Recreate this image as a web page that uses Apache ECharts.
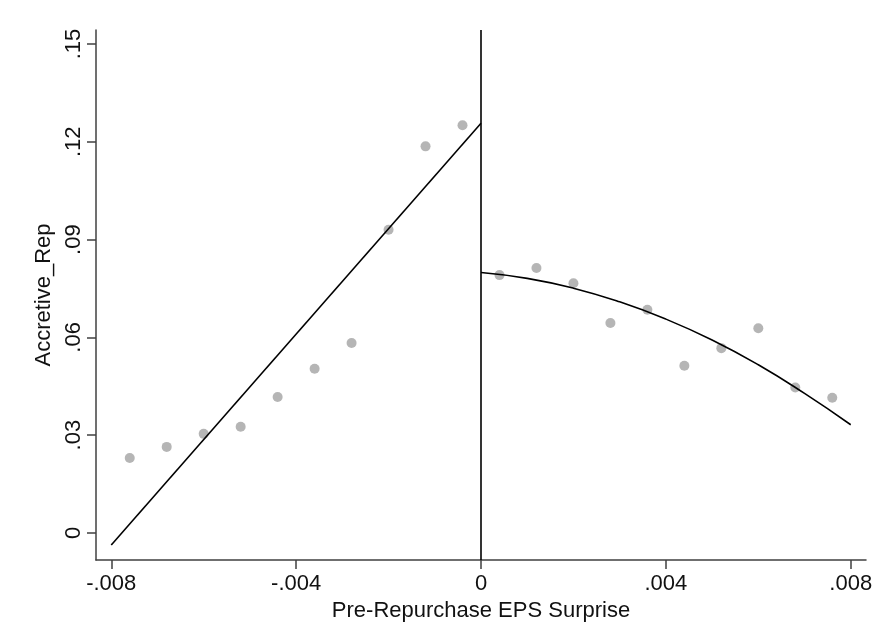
<!DOCTYPE html>
<html>
<head>
<meta charset="utf-8">
<script src="https://cdn.jsdelivr.net/npm/echarts@6/dist/echarts.min.js"></script>
<style>
html,body{margin:0;padding:0;background:#fff;}
#chart{width:877px;height:642px;}
</style>
</head>
<body>
<div id="chart"></div>
<script>
// ---- data ----
const leftX = [-0.0076, -0.0068, -0.0060, -0.0052, -0.0044, -0.0036, -0.0028, -0.0020, -0.0012, -0.0004];
const leftY = [0.0230, 0.0264, 0.0304, 0.0326, 0.0417, 0.0504, 0.0583, 0.0930, 0.1186, 0.1251];
const rightX = [0.0004, 0.0012, 0.0020, 0.0028, 0.0036, 0.0044, 0.0052, 0.0060, 0.0068, 0.0076];
const rightY = [0.0791, 0.0813, 0.0766, 0.0644, 0.0685, 0.0513, 0.0567, 0.0628, 0.0446, 0.0415];
// fitted line (left) read at its endpoints
const leftFitX = [-0.0080, 0.0000];
const leftFitY = [-0.0037, 0.1257];
// fitted curve (right) read at several points
const rightFitX = [0.000, 0.001, 0.002, 0.003, 0.004, 0.005, 0.006, 0.007, 0.008];
const rightFitY = [0.0799, 0.0781, 0.0751, 0.0709, 0.0656, 0.0592, 0.0516, 0.0428, 0.0332];
// axis ticks
const xTicks = [-0.008, -0.004, 0, 0.004, 0.008];
const xTickLabels = ['-.008', '-.004', '0', '.004', '.008'];
const yTicks = [0, 0.03, 0.06, 0.09, 0.12, 0.15];
const yTickLabels = ['0', '.03', '.06', '.09', '.12', '.15'];
const cutoff = 0;

const zip = (a, b) => a.map((v, i) => [v, b[i]]);
const lookup = (vals, labs) => v => {
  for (let i = 0; i < vals.length; i++) if (Math.abs(vals[i] - v) < 1e-9) return labs[i];
  return '';
};

const FONT = '"Liberation Sans", Arial, sans-serif';
const AX = '#404040';

const chart = echarts.init(document.getElementById('chart'), null, {renderer: 'canvas'});
chart.setOption({
  animation: false,
  backgroundColor: '#ffffff',
  grid: {left: 96, right: 11, top: 30, bottom: 82, containLabel: false},
  xAxis: {
    type: 'value',
    min: -0.00833, max: 0.00833,
    name: 'Pre-Repurchase EPS Surprise',
    nameLocation: 'middle',
    nameGap: 35,
    nameTextStyle: {fontFamily: FONT, fontSize: 22, color: '#111'},
    axisLine: {show: true, onZero: false, lineStyle: {color: AX, width: 1.5}},
    axisTick: {show: true, inside: false, length: 9, customValues: xTicks, lineStyle: {color: AX, width: 1.5}},
    axisLabel: {customValues: xTicks, formatter: lookup(xTicks, xTickLabels), margin: 13,
      fontFamily: FONT, fontSize: 22, color: '#111'},
    splitLine: {show: false}
  },
  yAxis: {
    type: 'value',
    min: -0.0083, max: 0.1543,
    name: 'Accretive_Rep',
    nameLocation: 'middle',
    nameGap: 26,
    nameRotate: 90,
    nameTextStyle: {fontFamily: FONT, fontSize: 22, color: '#111'},
    axisLine: {show: true, onZero: false, lineStyle: {color: AX, width: 1.5}},
    axisTick: {show: true, inside: false, length: 9, customValues: yTicks, lineStyle: {color: AX, width: 1.5}},
    axisLabel: {customValues: yTicks, formatter: lookup(yTicks, yTickLabels), rotate: 90, margin: 11,
      fontFamily: FONT, fontSize: 22, color: '#111'},
    splitLine: {show: false}
  },
  series: [
    {
      type: 'scatter', data: zip(leftX, leftY), symbolSize: 10,
      itemStyle: {color: '#a3a3a3'}, z: 2
    },
    {
      type: 'scatter', data: zip(rightX, rightY), symbolSize: 10,
      itemStyle: {color: '#a3a3a3'}, z: 2
    },
    {
      type: 'line', data: zip(leftFitX, leftFitY), showSymbol: false, symbol: 'none',
      lineStyle: {color: '#000', width: 1.6}, z: 3,
      markLine: {
        silent: true, symbol: ['none', 'none'], label: {show: false},
        lineStyle: {color: '#000', width: 1.6, type: 'solid'},
        data: [{xAxis: cutoff}]
      }
    },
    {
      type: 'line', data: zip(rightFitX, rightFitY), showSymbol: false, symbol: 'none', smooth: true,
      lineStyle: {color: '#000', width: 1.6}, z: 3
    }
  ]
});
</script>
</body>
</html>
